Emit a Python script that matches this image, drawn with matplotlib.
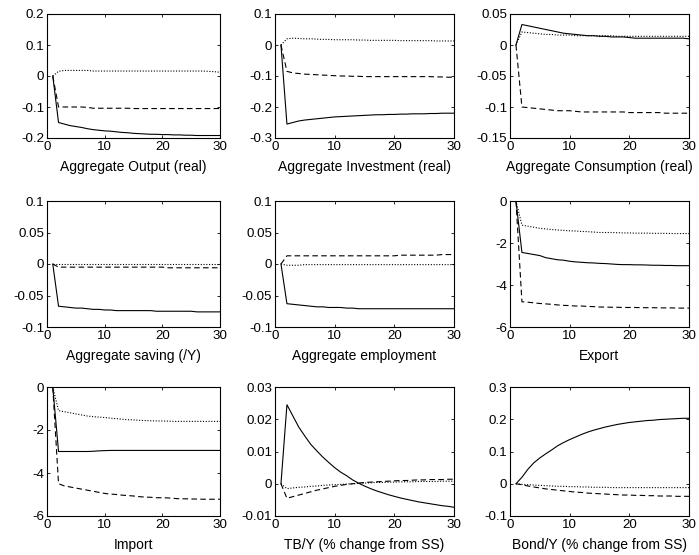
import numpy as np
import matplotlib
matplotlib.use("Agg")
import matplotlib.pyplot as plt
from matplotlib.ticker import FuncFormatter

plt.rcParams["font.family"] = ["Liberation Sans", "DejaVu Sans"]
plt.rcParams["font.size"] = 10

t = list(range(1, 31))

# Aggregate Output (real)
out_solid = [0, -0.15, -0.155, -0.16, -0.163, -0.166, -0.17, -0.173, -0.175, -0.177,
             -0.178, -0.18, -0.182, -0.183, -0.185, -0.186, -0.187, -0.188, -0.188, -0.189,
             -0.189, -0.19, -0.19, -0.191, -0.191, -0.192, -0.192, -0.192, -0.192, -0.192]
out_dash = [0, -0.1, -0.1, -0.1, -0.1, -0.1, -0.101, -0.104, -0.104, -0.104,
            -0.104, -0.104, -0.104, -0.104, -0.105, -0.105, -0.105, -0.105, -0.105, -0.105,
            -0.105, -0.105, -0.105, -0.105, -0.105, -0.105, -0.105, -0.105, -0.105, -0.105]
out_dot = [0, 0.015, 0.018, 0.018, 0.018, 0.018, 0.018, 0.016, 0.016, 0.016,
           0.016, 0.016, 0.016, 0.016, 0.016, 0.016, 0.016, 0.016, 0.016, 0.016,
           0.016, 0.016, 0.016, 0.016, 0.016, 0.016, 0.016, 0.015, 0.014, 0.012]

# Aggregate Investment (real)
inv_solid = [0, -0.255, -0.25, -0.245, -0.242, -0.24, -0.238, -0.236, -0.234, -0.232,
             -0.231, -0.23, -0.229, -0.228, -0.227, -0.226, -0.225, -0.225, -0.224, -0.224,
             -0.223, -0.223, -0.222, -0.222, -0.222, -0.221, -0.221, -0.22, -0.22, -0.22]
inv_dash = [0, -0.085, -0.09, -0.092, -0.094, -0.095, -0.096, -0.097, -0.098, -0.099,
            -0.1, -0.1, -0.101, -0.101, -0.102, -0.102, -0.102, -0.102, -0.102, -0.102,
            -0.102, -0.102, -0.102, -0.102, -0.102, -0.102, -0.103, -0.103, -0.104, -0.104]
inv_dot = [0, 0.02, 0.022, 0.021, 0.02, 0.02, 0.019, 0.018, 0.018, 0.017,
           0.017, 0.017, 0.017, 0.016, 0.016, 0.015, 0.015, 0.015, 0.015, 0.015,
           0.014, 0.014, 0.014, 0.014, 0.014, 0.014, 0.013, 0.013, 0.013, 0.013]

# Aggregate Consumption (real)
con_solid = [0, 0.033, 0.031, 0.029, 0.027, 0.025, 0.023, 0.021, 0.019, 0.018,
             0.017, 0.016, 0.015, 0.015, 0.014, 0.014, 0.013, 0.013, 0.013, 0.012,
             0.011, 0.011, 0.011, 0.011, 0.011, 0.011, 0.011, 0.011, 0.011, 0.01]
con_dash = [0, -0.1, -0.101, -0.102, -0.103, -0.104, -0.105, -0.106, -0.106, -0.106,
            -0.107, -0.108, -0.108, -0.108, -0.108, -0.108, -0.108, -0.108, -0.108, -0.109,
            -0.109, -0.109, -0.109, -0.109, -0.109, -0.11, -0.11, -0.11, -0.11, -0.11]
con_dot = [0, 0.021, 0.02, 0.019, 0.018, 0.017, 0.017, 0.016, 0.016, 0.016,
           0.015, 0.015, 0.015, 0.015, 0.015, 0.015, 0.015, 0.014, 0.014, 0.014,
           0.014, 0.014, 0.014, 0.014, 0.014, 0.014, 0.014, 0.014, 0.014, 0.014]

# Aggregate saving (/Y)
sav_solid = [0, -0.067, -0.068, -0.069, -0.07, -0.07, -0.071, -0.072, -0.072, -0.073,
             -0.073, -0.074, -0.074, -0.074, -0.074, -0.074, -0.074, -0.074, -0.075, -0.075,
             -0.075, -0.075, -0.075, -0.075, -0.075, -0.076, -0.076, -0.076, -0.076, -0.076]
sav_dash = [0, -0.005, -0.005, -0.005, -0.005, -0.005, -0.005, -0.005, -0.005, -0.005,
            -0.005, -0.005, -0.005, -0.005, -0.005, -0.005, -0.005, -0.005, -0.005, -0.005,
            -0.006, -0.006, -0.006, -0.006, -0.006, -0.006, -0.006, -0.006, -0.006, -0.006]
sav_dot = [0] * 30

# Aggregate employment
emp_solid = [0, -0.063, -0.064, -0.065, -0.066, -0.067, -0.068, -0.068, -0.069, -0.069,
             -0.069, -0.07, -0.07, -0.071, -0.071, -0.071, -0.071, -0.071, -0.071, -0.071,
             -0.071, -0.071, -0.071, -0.071, -0.071, -0.071, -0.071, -0.071, -0.071, -0.071]
emp_dash = [0, 0.013, 0.013, 0.013, 0.013, 0.013, 0.013, 0.013, 0.013, 0.013,
            0.013, 0.013, 0.013, 0.013, 0.013, 0.013, 0.013, 0.013, 0.013, 0.013,
            0.014, 0.014, 0.014, 0.014, 0.014, 0.014, 0.014, 0.015, 0.015, 0.015]
emp_dot = [0, -0.002, -0.002, -0.002, -0.001, -0.001, -0.001, -0.001, -0.001, -0.001,
           -0.001, -0.001, -0.001, -0.001, -0.001, -0.001, -0.001, -0.001, -0.001, -0.001,
           -0.001, -0.001, -0.001, -0.001, -0.001, -0.001, -0.001, -0.001, -0.001, -0.001]

# Export
exp_solid = [0, -2.45, -2.5, -2.55, -2.6, -2.7, -2.75, -2.8, -2.82, -2.87,
             -2.9, -2.92, -2.94, -2.95, -2.97, -2.98, -3.0, -3.02, -3.03, -3.03,
             -3.04, -3.04, -3.05, -3.06, -3.06, -3.07, -3.07, -3.08, -3.08, -3.08]
exp_dash = [0, -4.8, -4.82, -4.85, -4.88, -4.9, -4.92, -4.95, -4.97, -4.98,
            -5.0, -5.0, -5.02, -5.03, -5.05, -5.05, -5.06, -5.06, -5.07, -5.07,
            -5.07, -5.08, -5.08, -5.08, -5.09, -5.09, -5.09, -5.1, -5.1, -5.1]
exp_dot = [0, -1.15, -1.2, -1.25, -1.3, -1.33, -1.36, -1.38, -1.4, -1.42,
           -1.43, -1.45, -1.46, -1.48, -1.5, -1.5, -1.5, -1.51, -1.52, -1.52,
           -1.53, -1.53, -1.53, -1.54, -1.54, -1.54, -1.55, -1.55, -1.55, -1.55]

# Import
imp_solid = [0, -3.0, -3.0, -3.0, -3.0, -3.0, -3.0, -2.99, -2.97, -2.96,
             -2.95, -2.95, -2.95, -2.95, -2.95, -2.95, -2.95, -2.95, -2.95, -2.95,
             -2.95, -2.95, -2.95, -2.95, -2.95, -2.95, -2.95, -2.95, -2.95, -2.95]
imp_dash = [0, -4.5, -4.6, -4.65, -4.7, -4.75, -4.8, -4.85, -4.9, -4.95,
            -4.98, -5.0, -5.03, -5.05, -5.07, -5.1, -5.12, -5.13, -5.15, -5.15,
            -5.16, -5.18, -5.2, -5.2, -5.21, -5.21, -5.22, -5.22, -5.22, -5.22]
imp_dot = [0, -1.1, -1.15, -1.2, -1.25, -1.3, -1.35, -1.38, -1.4, -1.42,
           -1.45, -1.47, -1.5, -1.52, -1.53, -1.55, -1.56, -1.57, -1.58, -1.58,
           -1.59, -1.6, -1.6, -1.6, -1.6, -1.6, -1.6, -1.6, -1.6, -1.6]

# TB/Y (% change from SS)
tb_solid = [0, 0.0245, 0.021, 0.0175, 0.0148, 0.0122, 0.0102, 0.0083, 0.0066, 0.005,
            0.0036, 0.0025, 0.0012, 0.0002, -0.0007, -0.0015, -0.0022, -0.0028, -0.0034, -0.0039,
            -0.0044, -0.0048, -0.0052, -0.0056, -0.0059, -0.0062, -0.0065, -0.0068, -0.007, -0.0073]
tb_dash = [0, -0.0045, -0.004, -0.0035, -0.003, -0.0025, -0.002, -0.0016, -0.0012, -0.0008,
           -0.0005, -0.0002, 0.0, 0.0002, 0.0004, 0.0005, 0.0006, 0.0007, 0.0008, 0.0009,
           0.001, 0.001, 0.0011, 0.0012, 0.0012, 0.0013, 0.0013, 0.0013, 0.0014, 0.0014]
tb_dot = [0, -0.0015, -0.0013, -0.0011, -0.001, -0.0008, -0.0007, -0.0005, -0.0004, -0.0003,
          -0.0002, -0.0001, 0, 0.0001, 0.0002, 0.0003, 0.0004, 0.0004, 0.0005, 0.0005,
          0.0006, 0.0006, 0.0006, 0.0007, 0.0007, 0.0007, 0.0007, 0.0008, 0.0008, 0.0008]

# Bond/Y (% change from SS)
bond_solid = [0, 0.02, 0.045, 0.065, 0.08, 0.093, 0.105, 0.118, 0.128, 0.137,
              0.145, 0.153, 0.16, 0.166, 0.171, 0.176, 0.18, 0.184, 0.187, 0.19,
              0.192, 0.194, 0.196, 0.197, 0.199, 0.2, 0.201, 0.202, 0.203, 0.203]
bond_dash = [0, -0.003, -0.007, -0.01, -0.013, -0.016, -0.018, -0.02, -0.022, -0.024,
             -0.026, -0.027, -0.029, -0.03, -0.031, -0.032, -0.033, -0.034, -0.035, -0.035,
             -0.036, -0.036, -0.037, -0.037, -0.038, -0.038, -0.038, -0.039, -0.039, -0.039]
bond_dot = [0, -0.002, -0.003, -0.004, -0.005, -0.006, -0.007, -0.008, -0.008, -0.009,
            -0.009, -0.01, -0.01, -0.011, -0.011, -0.011, -0.012, -0.012, -0.012, -0.012,
            -0.012, -0.012, -0.012, -0.012, -0.012, -0.012, -0.012, -0.012, -0.012, -0.012]

titles = ["Aggregate Output (real)", "Aggregate Investment (real)", "Aggregate Consumption (real)",
          "Aggregate saving (/Y)", "Aggregate employment", "Export",
          "Import", "TB/Y (% change from SS)", "Bond/Y (% change from SS)"]
series = [(out_solid, out_dash, out_dot), (inv_solid, inv_dash, inv_dot),
          (con_solid, con_dash, con_dot), (sav_solid, sav_dash, sav_dot),
          (emp_solid, emp_dash, emp_dot), (exp_solid, exp_dash, exp_dot),
          (imp_solid, imp_dash, imp_dot), (tb_solid, tb_dash, tb_dot),
          (bond_solid, bond_dash, bond_dot)]
yticks = [np.arange(-0.2, 0.21, 0.1), np.arange(-0.3, 0.11, 0.1), np.arange(-0.15, 0.051, 0.05),
          np.arange(-0.1, 0.11, 0.05), np.arange(-0.1, 0.11, 0.05), np.arange(-6, 0.1, 2),
          np.arange(-6, 0.1, 2), np.arange(-0.01, 0.031, 0.01), np.arange(-0.1, 0.31, 0.1)]

W, H = 699, 555
cols = [(47, 220), (275, 454), (510, 689)]
rows = [(14, 138), (201, 327), (387, 516)]

fmt = FuncFormatter(lambda v, p: "0" if abs(v) < 1e-9 else ("%g" % round(v, 4)))

fig = plt.figure(figsize=(W / 100, H / 100), dpi=100)
for i in range(9):
    r, c = divmod(i, 3)
    x0, x1 = cols[c]
    y0, y1 = rows[r]
    ax = fig.add_axes([x0 / W, 1 - y1 / H, (x1 - x0) / W, (y1 - y0) / H])
    s, d, o = series[i]
    ax.plot(t, s, "-", color="k", lw=0.8)
    ax.plot(t, d, "--", color="k", lw=0.8, dashes=(5, 3))
    ax.plot(t, o, ":", color="k", lw=0.8, dashes=(1, 1.5))
    ax.set_xlim(0, 30)
    ax.set_xticks([0, 10, 20, 30])
    yt = yticks[i]
    ax.set_ylim(yt[0], yt[-1])
    ax.set_yticks(yt)
    ax.yaxis.set_major_formatter(fmt)
    ax.tick_params(direction="in", top=True, right=True, length=2.5, width=0.6, labelsize=9.6, pad=2)
    for sp in ax.spines.values():
        sp.set_linewidth(0.8)
    ax.set_xlabel(titles[i], fontsize=10, labelpad=5)

fig.savefig("out.png", dpi=100)
